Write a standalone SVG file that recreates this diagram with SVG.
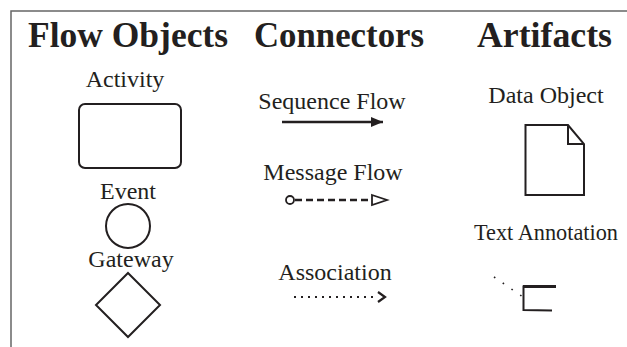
<svg xmlns="http://www.w3.org/2000/svg" width="627" height="347" viewBox="0 0 627 347">
  <style>
    .title { font-family: "Liberation Serif", "Times New Roman", serif; font-weight: bold; font-size: 35px; fill: #231f20; }
    .label { font-family: "Liberation Serif", "Times New Roman", serif; font-size: 24px; fill: #231f20; text-anchor: middle; }
    .shape { fill: #ffffff; stroke: #231f20; stroke-width: 2; }
    .border { fill: none; stroke: #666666; stroke-width: 1.5; }
  </style>
  <defs>
    <marker id="seqHead" viewBox="0 0 12 10" refX="12" refY="5" markerWidth="12" markerHeight="10" markerUnits="userSpaceOnUse" orient="auto">
      <path d="M0,0 L12,5 L0,10 Z" fill="#231f20"/>
    </marker>
  </defs>
  <rect width="627" height="347" fill="#ffffff"/>
  <path class="border" d="M11,347 L11,11 L627,11"/>

  <g id="headers">
    <text class="title" x="28" y="47" textLength="200" lengthAdjust="spacingAndGlyphs">Flow Objects</text>
    <text class="title" x="254" y="47" textLength="170" lengthAdjust="spacingAndGlyphs">Connectors</text>
    <text class="title" x="477" y="47" textLength="135" lengthAdjust="spacingAndGlyphs">Artifacts</text>
  </g>

  <g id="activity">
    <text class="label" x="125" y="87">Activity</text>
    <rect class="shape" x="79" y="104" width="102" height="64" rx="6"/>
  </g>
  <g id="event">
    <text class="label" x="128" y="199">Event</text>
    <circle class="shape" cx="128" cy="226" r="22"/>
  </g>
  <g id="gateway">
    <text class="label" x="131" y="267">Gateway</text>
    <path class="shape" d="M128,273 L160,305 L128,337 L96,305 Z"/>
  </g>

  <g id="data-object">
    <text class="label" x="546" y="103">Data Object</text>
    <path class="shape" d="M525.5,125 L568,125 L584,144 L584,195 L525.5,195 Z"/>
    <path fill="none" stroke="#231f20" stroke-width="2" d="M568,125 L568,144 L584,144"/>
  </g>
  <g id="text-annotation">
    <text class="label" x="474" y="240" style="text-anchor:start;font-size:22.3px">Text Annotation</text>
    <path fill="none" stroke="#231f20" stroke-width="2" d="M556,286.5 L523.5,286.5 L523.5,310 L552,310.5"/>
    <path d="M523,286.5 L556,286.5" stroke="#231f20" stroke-width="3"/>
  </g>

  <g id="connectors">
    <text class="label" x="332" y="109">Sequence Flow</text>
    <line x1="282" y1="122" x2="383" y2="122" stroke="#231f20" stroke-width="2.5" marker-end="url(#seqHead)"/>

    <text class="label" x="333" y="180">Message Flow</text>
    <circle cx="290" cy="200" r="4" fill="#ffffff" stroke="#231f20" stroke-width="1.8"/>
    <line x1="295" y1="200" x2="372" y2="200" stroke="#231f20" stroke-width="2.5" stroke-dasharray="7,4"/>
    <path d="M372,195 L387,200 L372,205 Z" fill="#ffffff" stroke="#231f20" stroke-width="1.8"/>

    <text class="label" x="335" y="280">Association</text>
    <line x1="294" y1="297" x2="376" y2="297" stroke="#231f20" stroke-width="2.2" stroke-dasharray="2,5"/>
    <path d="M378,292 L385,297 L378,302" fill="none" stroke="#231f20" stroke-width="2.2"/>

    <line x1="494" y1="277" x2="523" y2="297" stroke="#231f20" stroke-width="1.6" stroke-dasharray="1.6,9"/>
  </g>
</svg>
